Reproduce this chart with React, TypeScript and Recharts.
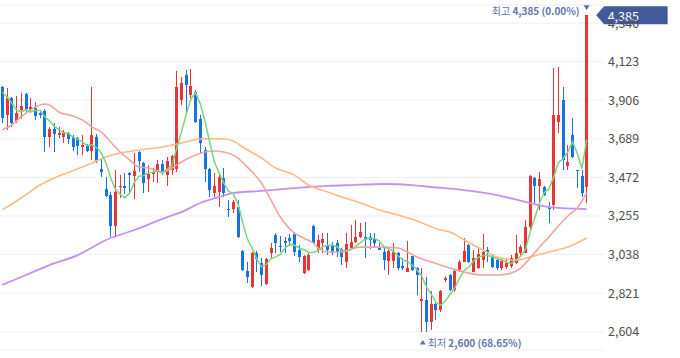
import {
  ComposedChart,
  Bar,
  Line,
  XAxis,
  YAxis,
  CartesianGrid,
  ReferenceDot,
} from "recharts";

// daily candles, oldest first
const opens = [
  3981, 3823, 3919, 3789, 3851, 3941, 3851, 3862, 3834, 3846,
  3699, 3744, 3711, 3699, 3722, 3699, 3694, 3643, 3649, 3621,
  3699, 3519, 3407, 3373, 3199, 3418, 3424, 3497, 3480, 3615,
  3553, 3463, 3491, 3502, 3547, 3485, 3514, 3519, 3907, 4048,
  3936, 3952, 3801, 3626, 3519, 3384, 3390, 3469, 3294, 3294,
  3305, 3058, 2945, 2855, 3047, 2990, 2872, 3047, 3148, 3086,
  3114, 3131, 3154, 3064, 2934, 2951, 3199, 3064, 3103, 3092,
  3092, 3103, 3069, 2996, 3075, 3109, 3137, 3137, 3137, 3125,
  3080, 3052, 3002, 3002, 3047, 2974, 2940, 3030, 2962, 2777,
  2782, 2658, 2760, 2726, 2895, 2923, 2839, 2951, 2996, 3092,
  2940, 2962, 3007, 3064, 3030, 3007, 2962, 2968, 2974, 2990,
  3047, 3047, 3193, 3469, 3424, 3418, 3300, 3317, 3784, 3907,
  3536, 3711, 3514, 3480, 3418,
];
const highs = [
  3986, 3975, 3924, 3930, 3947, 3947, 3919, 3896, 3851, 3857,
  3756, 3778, 3756, 3739, 3727, 3711, 3699, 3711, 3660, 3981,
  3716, 3581, 3474, 3390, 3514, 3485, 3497, 3502, 3609, 3621,
  3559, 3542, 3525, 3570, 3570, 3587, 3598, 4071, 4037, 4076,
  4082, 3964, 3823, 3643, 3525, 3497, 3502, 3525, 3345, 3345,
  3345, 3064, 2996, 3052, 3058, 3019, 3019, 3103, 3159, 3142,
  3137, 3154, 3165, 3092, 3035, 3047, 3204, 3148, 3159, 3159,
  3109, 3120, 3075, 3159, 3204, 3232, 3215, 3221, 3159, 3159,
  3103, 3080, 3064, 3103, 3052, 3019, 3114, 3030, 2968, 2962,
  2912, 2833, 2765, 2839, 2917, 2929, 2951, 3007, 3131, 3097,
  3064, 3080, 3154, 3080, 3041, 3019, 3019, 3019, 3035, 3148,
  3092, 3232, 3485, 3474, 3502, 3424, 3334, 4087, 4093, 3981,
  3654, 3806, 3514, 3514, 4385,
];
const lows = [
  3778, 3739, 3756, 3778, 3801, 3834, 3834, 3795, 3806, 3615,
  3643, 3615, 3694, 3666, 3660, 3621, 3598, 3598, 3615, 3570,
  3553, 3474, 3362, 3137, 3142, 3356, 3379, 3384, 3350, 3502,
  3384, 3390, 3446, 3440, 3485, 3424, 3485, 3502, 3879, 3834,
  3919, 3778, 3609, 3446, 3362, 3362, 3305, 3362, 3249, 3272,
  3131, 2945, 2878, 2850, 2940, 2861, 2867, 3019, 3047, 3052,
  3047, 3086, 3030, 2996, 2929, 2945, 3097, 3047, 3047, 3035,
  3035, 3024, 2979, 2962, 3064, 3103, 3131, 3019, 3069, 3075,
  3064, 2951, 2923, 2962, 2951, 2951, 2940, 2945, 2810, 2600,
  2602, 2613, 2670, 2715, 2884, 2833, 2827, 2940, 2996, 2990,
  2940, 2957, 2962, 2996, 2962, 2951, 2951, 2957, 2962, 2985,
  3035, 3047, 3176, 3328, 3289, 3367, 3215, 3289, 3722, 3514,
  3514, 3581, 3412, 3362, 3328,
];
const closes = [
  3806, 3919, 3778, 3834, 3874, 3857, 3868, 3817, 3823, 3699,
  3744, 3716, 3722, 3727, 3688, 3643, 3649, 3654, 3621, 3711,
  3564, 3502, 3367, 3199, 3390, 3424, 3412, 3485, 3508, 3564,
  3440, 3491, 3502, 3547, 3497, 3564, 3592, 3981, 4003, 3992,
  3986, 3784, 3666, 3519, 3401, 3424, 3474, 3384, 3289, 3334,
  3137, 2951, 2912, 3047, 3013, 2923, 3013, 3075, 3103, 3080,
  3103, 3114, 3052, 3024, 3030, 3035, 3103, 3120, 3125, 3064,
  3047, 3052, 3024, 3097, 3109, 3137, 3165, 3120, 3120, 3103,
  3064, 3007, 3058, 3052, 2962, 2962, 2962, 2951, 2923, 2788,
  2658, 2760, 2726, 2833, 2906, 2839, 2945, 2996, 3058, 2996,
  3019, 3041, 3052, 3052, 2968, 2962, 3002, 2990, 3019, 3047,
  3080, 3193, 3480, 3424, 3463, 3373, 3294, 3823, 3823, 3570,
  3559, 3587, 3508, 3384, 4385,
];

// 5-day MA, one value per candle
const ma5 = [
  3953, 3924, 3891, 3851, 3842, 3852, 3842, 3850, 3848, 3813,
  3790, 3760, 3741, 3722, 3719, 3699, 3686, 3672, 3651, 3656,
  3640, 3610, 3553, 3469, 3404, 3376, 3358, 3382, 3444, 3479,
  3482, 3498, 3501, 3509, 3495, 3520, 3540, 3636, 3727, 3826,
  3911, 3949, 3886, 3789, 3671, 3559, 3497, 3440, 3394, 3381,
  3324, 3219, 3125, 3076, 3012, 2969, 2982, 3014, 3025, 3039,
  3075, 3095, 3090, 3075, 3065, 3051, 3049, 3062, 3083, 3089,
  3092, 3082, 3062, 3057, 3066, 3084, 3106, 3126, 3130, 3129,
  3114, 3083, 3070, 3057, 3029, 3008, 2999, 2978, 2952, 2917,
  2856, 2816, 2771, 2753, 2777, 2813, 2850, 2904, 2949, 2967,
  3003, 3022, 3033, 3032, 3026, 3015, 3007, 2995, 2988, 3004,
  3028, 3066, 3164, 3245, 3328, 3387, 3407, 3475, 3555, 3577,
  3614, 3672, 3609, 3522, 3685,
];

// longer MAs, sampled along the line (candle index -> value)
const ma20Idx = [0, 2, 4, 7, 9, 10, 12, 15, 17, 19, 21, 23, 25, 27, 29, 31, 34, 36, 38, 40, 43, 45, 47, 50, 52, 55, 57, 59, 62, 64, 66, 67, 69, 72, 74, 76, 80, 84, 86, 88, 91, 93, 95, 98, 102, 105, 108, 110, 112, 114, 116, 118, 120, 122, 124];
const ma20Val = [3739, 3767, 3812, 3868, 3885, 3879, 3840, 3817, 3795, 3756, 3727, 3671, 3615, 3570, 3530, 3525, 3502, 3525, 3559, 3587, 3615, 3621, 3615, 3581, 3530, 3440, 3345, 3249, 3159, 3130, 3103, 3075, 3052, 3052, 3069, 3080, 3080, 3075, 3052, 3024, 2996, 2979, 2962, 2940, 2923, 2923, 2934, 2962, 3019, 3080, 3137, 3199, 3255, 3300, 3385];
const ma60Idx = [0, 4, 8, 12, 17, 19, 22, 25, 29, 34, 38, 42, 44, 47, 49, 51, 55, 58, 62, 65, 69, 72, 76, 80, 84, 88, 93, 95, 98, 102, 105, 109, 112, 116, 120, 122, 124];
const ma60Val = [3289, 3356, 3429, 3480, 3530, 3553, 3587, 3609, 3626, 3643, 3666, 3688, 3690, 3688, 3677, 3643, 3581, 3525, 3485, 3429, 3390, 3362, 3328, 3289, 3260, 3227, 3176, 3165, 3120, 3064, 3024, 3007, 3024, 3052, 3080, 3103, 3131];
const ma120Idx = [0, 5, 10, 16, 22, 28, 35, 38, 42, 46, 49, 55, 62, 69, 74, 81, 87, 91, 98, 105, 111, 116, 124];
const ma120Val = [2867, 2923, 2979, 3035, 3120, 3176, 3249, 3277, 3328, 3362, 3384, 3396, 3412, 3424, 3429, 3435, 3429, 3418, 3401, 3373, 3334, 3305, 3294];

const yTicks = [2604, 2821, 3038, 3255, 3472, 3689, 3906, 4123, 4340];

const UP = "#ec3437";
const DOWN = "#1673e6";
const TAG = "#42599a";
const NOTE = "#6375ab";
const FONT = "'Malgun Gothic', 'Noto Sans CJK KR', 'Noto Sans', sans-serif";

const fmt = (v: number) => v.toLocaleString("en-US");

const sampleAt = (idx: number[], val: number[], i: number) => {
  const k = idx.indexOf(i);
  return k === -1 ? null : val[k];
};

const data = closes.map((c, i) => ({
  i,
  open: opens[i],
  high: highs[i],
  low: lows[i],
  close: c,
  ma5: ma5[i],
  ma20: sampleAt(ma20Idx, ma20Val, i),
  ma60: sampleAt(ma60Idx, ma60Val, i),
  ma120: sampleAt(ma120Idx, ma120Val, i),
}));

const lastIdx = closes.length - 1;
const lastClose = closes[lastIdx];
const maxPrice = Math.max(...highs);
const minPrice = Math.min(...lows);
const maxIdx = highs.indexOf(maxPrice);
const minIdx = lows.indexOf(minPrice);
const pct = (from: number) => `${(((lastClose - from) / from) * 100).toFixed(2)}%`;

function Candle(props: any) {
  const { x, y, width, height, payload } = props;
  if (x == null || !payload) return null;
  const { open, close, high, low } = payload;
  const top = Math.min(y, y + height);
  const h = Math.abs(height);
  const span = high - low;
  const py = (v: number) => (span === 0 ? top : top + ((high - v) / span) * h);
  const color = close >= open ? UP : DOWN;
  const left = Math.round(x + width / 2 - 1.5);
  const bTop = Math.round(py(Math.max(open, close)));
  const bBot = Math.round(py(Math.min(open, close)));
  return (
    <g>
      <rect x={left + 1} y={Math.round(top)} width={1} height={Math.max(1, Math.round(h))} fill={color} />
      <rect x={left} y={bTop} width={3} height={Math.max(1, bBot - bTop)} fill={color} />
    </g>
  );
}

function MaxMarker(props: any) {
  const { cx, cy } = props;
  if (cx == null) return null;
  return (
    <g fontFamily={FONT}>
      <path d={`M${cx - 3},${cy - 10} L${cx + 3},${cy - 10} L${cx},${cy - 5} Z`} fill={NOTE} />
      <text x={cx - 7} y={cy - 5.5} textAnchor="end" dominantBaseline="central" fontSize={10} fill={NOTE}>
        <tspan>최고 </tspan>
        <tspan fontWeight={700}>{`${fmt(maxPrice)} (${pct(maxPrice)})`}</tspan>
      </text>
      <path
        d={`M${cx + 9.5},${cy} L${cx + 17.5},${cy - 9} L${cx + 81},${cy - 9} L${cx + 81},${cy + 9} L${cx + 17.5},${cy + 9} Z`}
        fill={TAG}
      />
      <text x={cx + 21} y={cy} dominantBaseline="central" fontSize={12.5} fill="#ffffff">
        {fmt(lastClose)}
      </text>
    </g>
  );
}

function MinMarker(props: any) {
  const { cx, cy } = props;
  if (cx == null) return null;
  return (
    <g fontFamily={FONT}>
      <path d={`M${cx + 1},${cy + 7.5} L${cx + 4},${cy + 12} L${cx - 2},${cy + 12} Z`} fill={NOTE} />
      <text x={cx + 6} y={cy + 10} dominantBaseline="central" fontSize={10} fill={NOTE}>
        <tspan>최저 </tspan>
        <tspan fontWeight={700}>{`${fmt(minPrice)} (${pct(minPrice)})`}</tspan>
      </text>
    </g>
  );
}

export default function App() {
  return (
    <div style={{ position: "absolute", left: 0, top: 0, background: "#fff" }}>
      <ComposedChart
        width={680}
        height={358}
        data={data}
        margin={{ top: 5, right: 0, bottom: 8, left: 0 }}
      >
        <CartesianGrid vertical={false} stroke="#efefef" />
        <XAxis dataKey="i" type="category" hide padding={{ left: 0, right: 15 }} />
        <YAxis
          orientation="right"
          domain={[2501, 4442]}
          allowDataOverflow
          ticks={yTicks}
          tickFormatter={(v: number) => fmt(v)}
          axisLine={false}
          tickLine={false}
          tickSize={0}
          tickMargin={4}
          width={76}
          tick={{ fontSize: 12.5, fill: "#4f4f4f", fontFamily: FONT }}
        />
        <Bar
          dataKey={(d: any) => [d.low, d.high]}
          shape={<Candle />}
          isAnimationActive={false}
        />
        <Line dataKey="ma120" type="monotone" stroke="#c48ff6" strokeWidth={1.8} dot={false} connectNulls isAnimationActive={false} />
        <Line dataKey="ma60" type="monotone" stroke="#fdbb83" strokeWidth={1.6} dot={false} connectNulls isAnimationActive={false} />
        <Line dataKey="ma20" type="monotone" stroke="#f7a1a1" strokeWidth={1.6} dot={false} connectNulls isAnimationActive={false} />
        <Line dataKey="ma5" type="linear" stroke="#7ad67a" strokeWidth={1.5} dot={false} isAnimationActive={false} />
        <ReferenceDot x={maxIdx} y={maxPrice} r={0} ifOverflow="visible" shape={<MaxMarker />} />
        <ReferenceDot x={minIdx} y={minPrice} r={0} ifOverflow="visible" shape={<MinMarker />} />
      </ComposedChart>
    </div>
  );
}
